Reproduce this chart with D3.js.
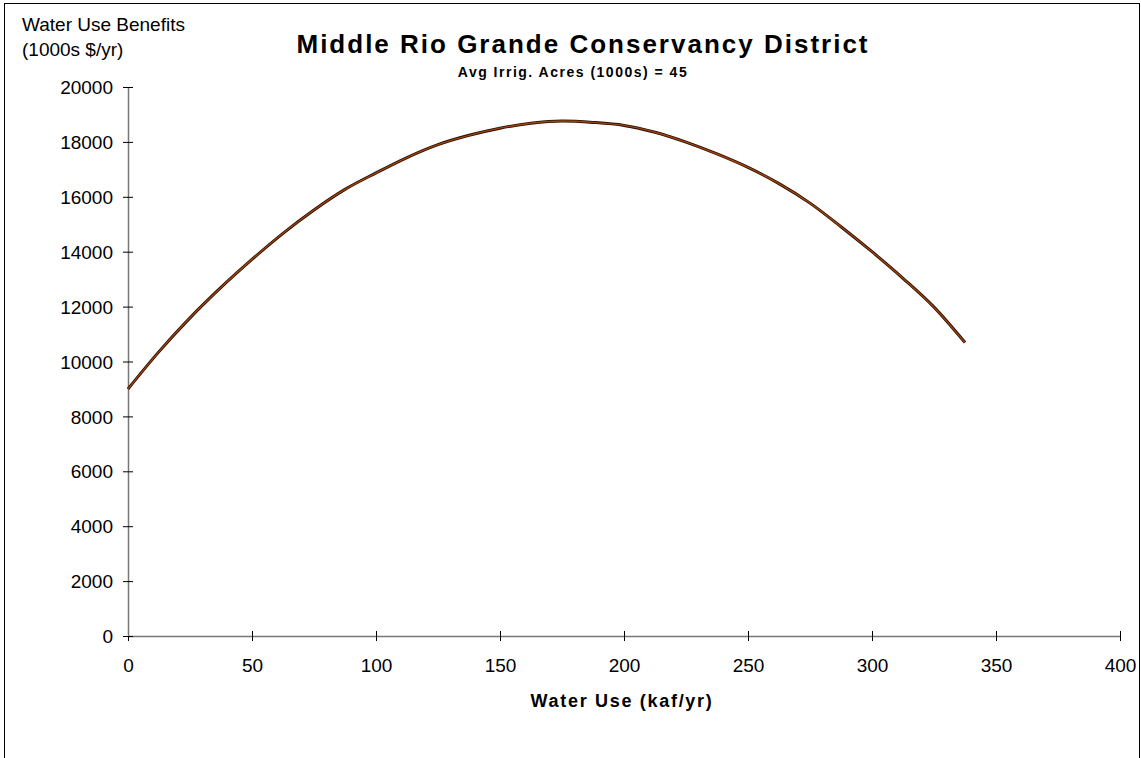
<!DOCTYPE html>
<html>
<head>
<meta charset="utf-8">
<script src="https://cdn.jsdelivr.net/npm/d3@7"></script>
<style>
  body { margin: 0; background: #fff; }
  text { font-family: "Liberation Sans", Arial, sans-serif; }
</style>
</head>
<body>
<div id="chart"></div>
<script>
// values
const waterUse = [0, 12.5, 25, 37.5, 50, 62.5, 75, 87.5, 100, 112.5, 125, 137.5, 150, 162.5,
  175, 187.5, 200, 212.5, 225, 237.5, 250, 262.5, 275, 287.5, 300, 312.5, 325, 337.5];
const benefits = [9000, 10360, 11590, 12700, 13720, 14670, 15520, 16270, 16870, 17430, 17900, 18240, 18500, 18680,
  18760, 18710, 18600, 18350, 17990, 17560, 17070, 16480, 15770, 14910, 14000, 13030, 11980, 10690];
const xTicks = [0, 50, 100, 150, 200, 250, 300, 350, 400];
const yTicks = [0, 2000, 4000, 6000, 8000, 10000, 12000, 14000, 16000, 18000, 20000];

const width = 1141, height = 758;
const plotLeft = 128, plotRight = 1120, plotTop = 87, plotBottom = 636;

const svg = d3.select('#chart').append('svg')
  .attr('width', width)
  .attr('height', height);

// outer frame
svg.append('rect')
  .attr('x', 4.5).attr('y', 3.5)
  .attr('width', 1135).attr('height', 800)
  .attr('fill', 'none').attr('stroke', '#000').attr('stroke-width', 1);

const x = d3.scaleLinear().domain([0, 400]).range([plotLeft, plotRight]);
const y = d3.scaleLinear().domain([0, 20000]).range([plotBottom, plotTop]);

// x axis
const xAxis = svg.append('g').attr('transform', `translate(0,${plotBottom})`)
  .call(d3.axisBottom(x).tickValues(xTicks).tickSize(0).tickPadding(0).tickFormat(''));
xAxis.select('.domain').attr('stroke', '#777').attr('stroke-width', 1.5);
xAxis.selectAll('.tick line').attr('y1', -5).attr('y2', 5).attr('stroke', '#000');
xAxis.selectAll('.tick').append('text')
  .attr('y', 36).attr('text-anchor', 'middle')
  .attr('fill', '#000').attr('font-size', 19)
  .text(d => d);

// y axis
const yAxis = svg.append('g').attr('transform', `translate(${plotLeft},0)`)
  .call(d3.axisLeft(y).tickValues(yTicks).tickSize(0).tickPadding(0).tickFormat(''));
yAxis.select('.domain').attr('stroke', '#777').attr('stroke-width', 1.5);
yAxis.selectAll('.tick line').attr('x1', -5).attr('x2', 5).attr('stroke', '#000');
yAxis.selectAll('.tick').append('text')
  .attr('x', -15).attr('dy', '0.35em').attr('text-anchor', 'end')
  .attr('fill', '#000').attr('font-size', 19)
  .text(d => d);

// curve
const pts = waterUse.map((d, i) => [d, benefits[i]]);
const line = d3.line().x(d => x(d[0])).y(d => y(d[1])).curve(d3.curveMonotoneX);
svg.append('path').datum(pts)
  .attr('d', line).attr('fill', 'none')
  .attr('stroke', '#2a1000').attr('stroke-width', 3);
svg.append('path').datum(pts)
  .attr('d', line).attr('fill', 'none')
  .attr('stroke', '#9a4212').attr('stroke-width', 1.4);

// titles
svg.append('text')
  .attr('x', 583).attr('y', 53).attr('text-anchor', 'middle')
  .attr('font-size', 26).attr('font-weight', 'bold').attr('letter-spacing', 2)
  .text('Middle Rio Grande Conservancy District');
svg.append('text')
  .attr('x', 573).attr('y', 77).attr('text-anchor', 'middle')
  .attr('font-size', 14).attr('font-weight', 'bold').attr('letter-spacing', 1.5)
  .text('Avg Irrig. Acres (1000s) = 45');

svg.append('text')
  .attr('x', 22).attr('y', 31).attr('font-size', 19)
  .text('Water Use Benefits');
svg.append('text')
  .attr('x', 22).attr('y', 56).attr('font-size', 19)
  .text('(1000s $/yr)');

svg.append('text')
  .attr('x', 622).attr('y', 707).attr('text-anchor', 'middle')
  .attr('font-size', 18).attr('font-weight', 'bold').attr('letter-spacing', 1.7)
  .text('Water Use (kaf/yr)');
</script>
</body>
</html>
